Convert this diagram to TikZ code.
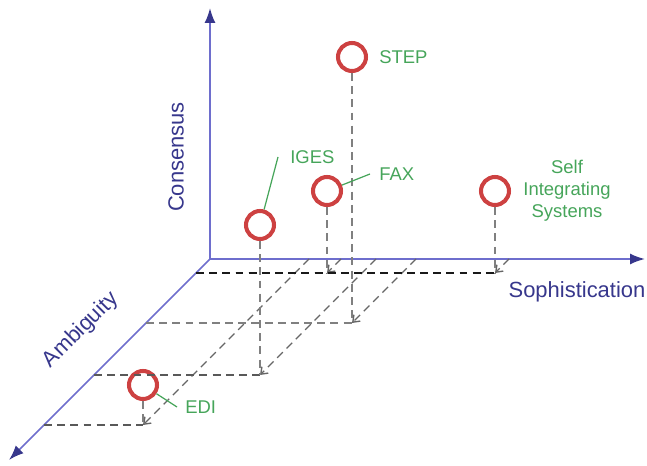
\documentclass[tikz,border=0pt]{standalone}
\usepackage{fontspec}
\setmainfont{Liberation Sans}
\usetikzlibrary{arrows.meta}
\definecolor{axisline}{RGB}{110,110,205}
\definecolor{axistext}{RGB}{55,55,140}
\definecolor{ringred}{RGB}{205,65,65}
\definecolor{taggreen}{RGB}{70,165,90}
\tikzset{
  axis/.style={axisline, line width=1pt, -{Latex[length=3mm, width=2.2mm, color=axistext]}},
  axislbl/.style={text=axistext, font=\fontsize{12.5}{15}\selectfont},
  floor/.style={line width=0.8pt, dash pattern=on 4.5pt off 3pt},
  ring/.style={circle, draw=ringred, line width=2.3pt, minimum size=0.56cm, inner sep=0pt},
  tag/.style={text=taggreen, inner sep=0pt, font=\fontsize{10.5}{12.6}\selectfont},
  leader/.style={taggreen, line width=0.7pt}
}
\begin{document}
\begin{tikzpicture}[x=0.02cm, y=-0.02cm]
  \useasboundingbox (0,0) rectangle (647,466);
  \coordinate (O) at (210,259);
  \coordinate (ctop) at (210,8);
  \coordinate (send) at (645,259);
  \coordinate (aend) at (9,460);
  \draw[axis] (O) -- (ctop);
  \draw[axis] (O) -- (send);
  \draw[axis] (O) -- (aend);
  \node[axislbl, rotate=90] (cons) at (176,157) {Consensus};
  \node[axislbl, rotate=45] (amb) at (81,330) {Ambiguity};
  \node[axislbl] (soph) at (577,292) {Sophistication};
  \foreach \n/\s/\a/\c/\k in {edi/99/166/40/65, iges/166/116/150/65, step/206/64/266/50,
      fax/131/14/82/90, sis/299/14/82/90} {
    \coordinate (\n-f) at (210+\s-\a, 259+\a);
    \coordinate (\n-s) at (210+\s, 259);
    \coordinate (\n-a) at (210-\a, 259+\a);
    \draw[floor, black!\k] (\n-a) -- (\n-f);
    \draw[floor, black!60, -{Straight Barb[length=1.2mm, width=1.8mm]}] (\n-s) -- (\n-f);
    \node[ring] (\n) at (210+\s-\a, 259+\a-\c) {};
    \draw[floor, black!50] (\n) -- (\n-f);
  }
  \node[tag, anchor=west] (step-t) at (379,57) {STEP};
  \node[tag, anchor=west] (iges-t) at (290,157) {IGES};
  \node[tag, anchor=west] (fax-t) at (379,174) {FAX};
  \node[tag, anchor=west] (edi-t) at (185,407) {EDI};
  \node[tag, align=center] (sis-t) at (567,191) {Self\\Integrating\\Systems};
  \draw[leader] (iges) -- ([xshift=-0.24cm]iges-t.west);
  \draw[leader] (fax) -- ([xshift=-0.18cm]fax-t.west);
  \draw[leader] (edi) -- ([xshift=-0.16cm]edi-t.west);
\end{tikzpicture}
\end{document}
